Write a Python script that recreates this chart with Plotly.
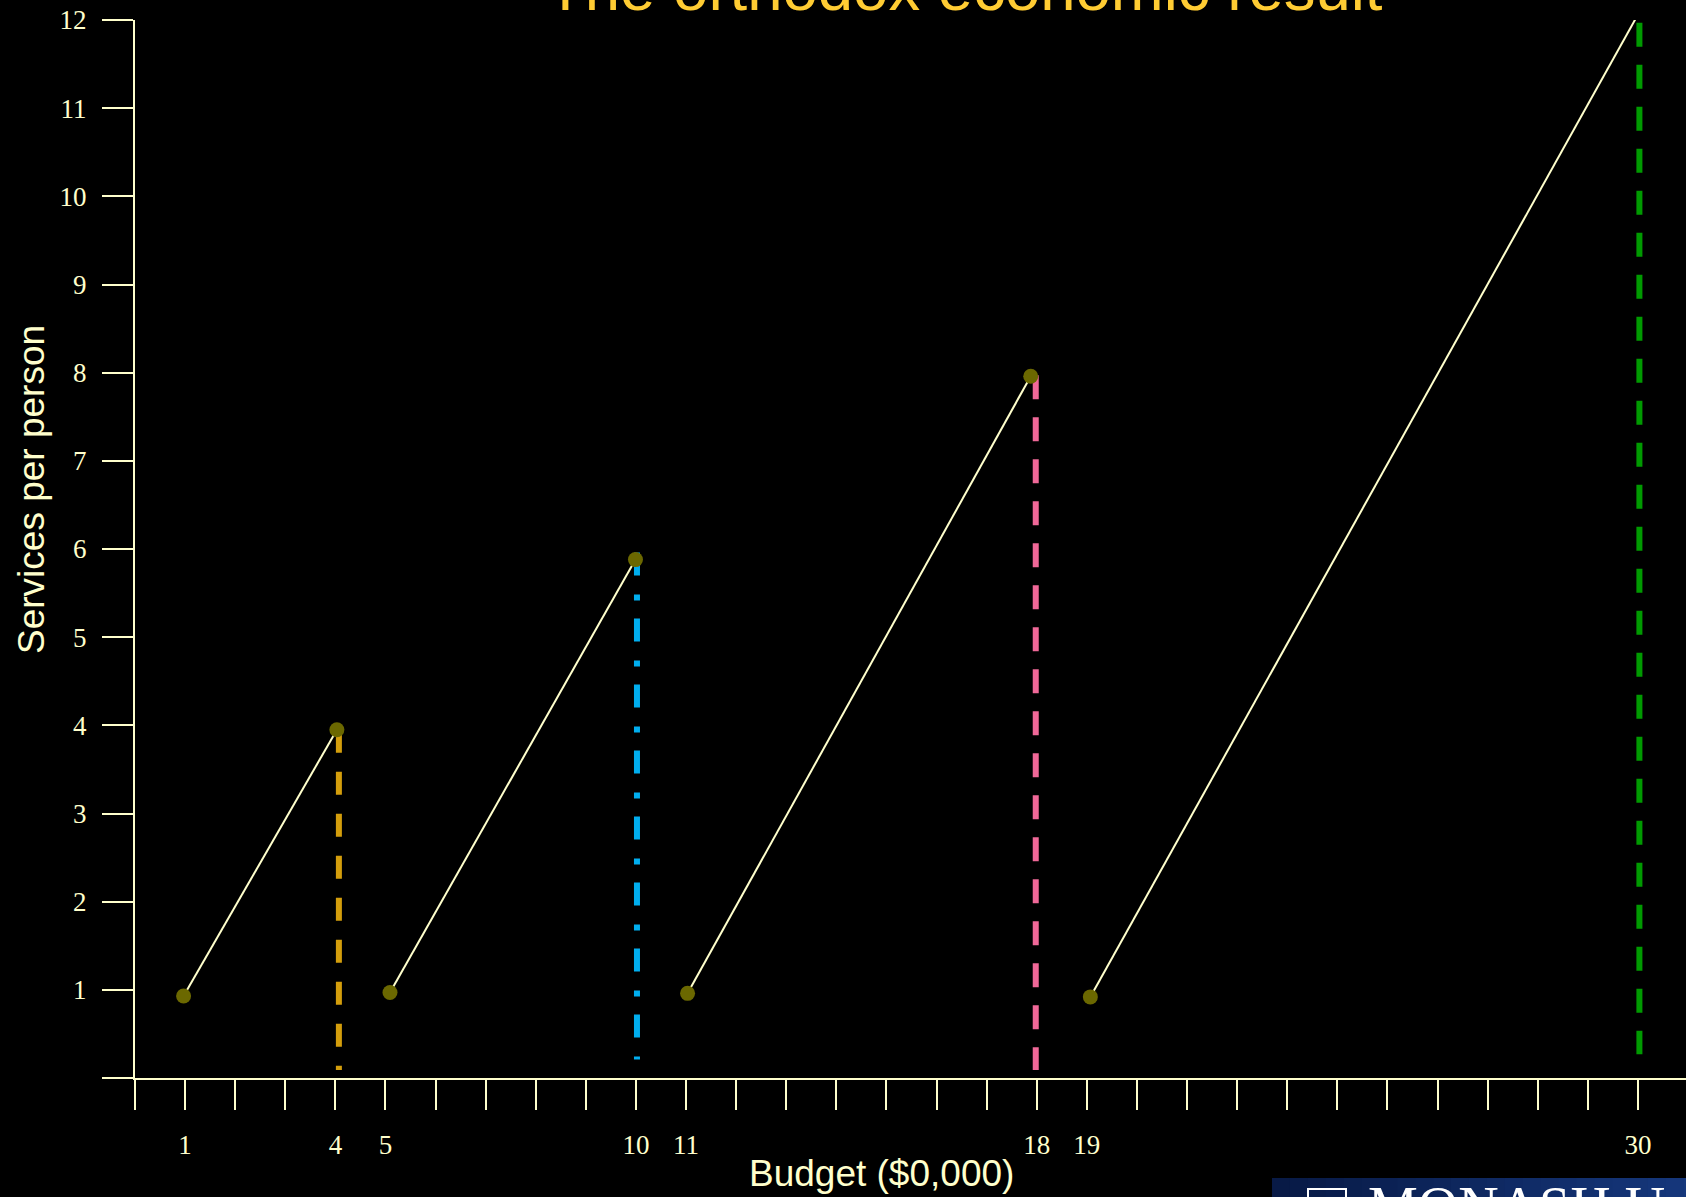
import plotly.graph_objects as go

# Budget bands: each band starts at a low budget and ends at a cutoff budget
band_low_budget = [0.97, 5.09, 11.03, 19.07]
band_low_services = [0.93, 0.97, 0.96, 0.92]
band_high_budget = [4.03, 9.99, 17.88, 29.96]
band_high_services = [3.95, 5.88, 7.96, 12.02]

# Vertical cutoff lines at the top of each band
cutoff_budget = [4.07, 10.02, 17.98, 30.03]
cutoff_top = [3.95, 5.96, 7.97, 11.97]
cutoff_bottom = [0.09, 0.21, 0.09, 0.27]
cutoff_colors = ["#D49E0C", "#00AEEF", "#F06898", "#009A00"]
cutoff_dash = ["23px,19px", "23px,19px,6px,18px", "24px,18px", "24px,18px"]

# Axis ticks
x_tick_values = list(range(0, 31))
x_tick_labelled = {1: "1", 4: "4", 5: "5", 10: "10", 11: "11", 18: "18", 19: "19", 30: "30"}
y_tick_values = list(range(0, 13))
y_tick_labels = [""] + [str(v) for v in range(1, 13)]

CREAM = "#FFFFCC"
fig = go.Figure()

for i in range(len(cutoff_budget)):
    fig.add_trace(go.Scatter(
        x=[cutoff_budget[i], cutoff_budget[i]],
        y=[cutoff_top[i], cutoff_bottom[i]],
        mode="lines",
        line=dict(color=cutoff_colors[i], width=6, dash=cutoff_dash[i]),
        hoverinfo="skip", showlegend=False, cliponaxis=False,
    ))

for i in range(len(band_low_budget)):
    fig.add_trace(go.Scatter(
        x=[band_low_budget[i], band_high_budget[i]],
        y=[band_low_services[i], band_high_services[i]],
        mode="lines+markers",
        line=dict(color=CREAM, width=2),
        marker=dict(color="#6B6800", size=15, line=dict(width=0)),
        showlegend=False, cliponaxis=False,
    ))

x_tick_text = [x_tick_labelled.get(v, "") for v in x_tick_values]

fig.update_xaxes(
    range=[0, 30.96], tickvals=x_tick_values, ticktext=x_tick_text,
    ticks="outside", ticklen=30, tickwidth=2, tickcolor=CREAM,
    showline=True, linecolor=CREAM, linewidth=2,
    showgrid=False, zeroline=False, ticklabelstandoff=12,
    tickfont=dict(family="Liberation Serif", size=27, color=CREAM),
)
fig.update_yaxes(
    range=[0, 12], tickvals=y_tick_values, ticktext=y_tick_labels,
    ticks="outside", ticklen=31, tickwidth=2, tickcolor=CREAM,
    showline=True, linecolor=CREAM, linewidth=2,
    showgrid=False, zeroline=False, ticklabelstandoff=10,
    tickfont=dict(family="Liberation Serif", size=27, color=CREAM),
)

annotations = [
    dict(text="The orthodox economic result", x=0.5345, y=1.0302, xref="paper", yref="paper",
         xanchor="center", yanchor="middle", showarrow=False,
         font=dict(family="Liberation Sans", size=63.5, color="#FFCC33")),
    dict(text="Budget ($0,000)", x=0.4816, y=-0.0907, xref="paper", yref="paper",
         xanchor="center", yanchor="middle", showarrow=False,
         font=dict(family="Liberation Sans", size=37, color=CREAM)),
    dict(text="Services per person", x=-0.0664, y=0.5558, xref="paper", yref="paper",
         xanchor="center", yanchor="middle", textangle=-90, showarrow=False,
         font=dict(family="Liberation Sans", size=37, color=CREAM)),
    dict(text="MONASH University", x=(1366 - 135) / 1551, y=(1078 - 1174) / 1058,
         xref="paper", yref="paper", xanchor="left", yanchor="top", showarrow=False,
         font=dict(family="Liberation Serif", size=56, color="white")),
]

# Logo banner in the bottom-right corner, shaded left to right
shapes = []
n_strips = 24
x_start, x_end = (1272 - 135) / 1551, 1.01
for k in range(n_strips):
    t = k / (n_strips - 1)
    r = int(8 + t * 14)
    g = int(26 + t * 30)
    b = int(70 + t * 55)
    shapes.append(dict(
        type="rect", xref="paper", yref="paper", layer="below",
        x0=x_start + (x_end - x_start) * k / n_strips,
        x1=x_start + (x_end - x_start) * (k + 1) / n_strips + 0.001,
        y0=(1078 - 1178) / 1058, y1=(1078 - 1210) / 1058,
        fillcolor=f"rgb({r},{g},{b})", line=dict(width=0),
    ))
shapes.append(dict(
    type="rect", xref="paper", yref="paper",
    x0=(1308 - 135) / 1551, x1=(1346 - 135) / 1551,
    y0=(1078 - 1189) / 1058, y1=(1078 - 1215) / 1058,
    line=dict(color="white", width=2), fillcolor="rgba(0,0,0,0)",
))

fig.update_layout(
    width=1686, height=1197,
    paper_bgcolor="black", plot_bgcolor="black",
    margin=dict(l=135, r=0, t=20, b=119),
    annotations=annotations, shapes=shapes,
)

fig.write_html("out.html")
